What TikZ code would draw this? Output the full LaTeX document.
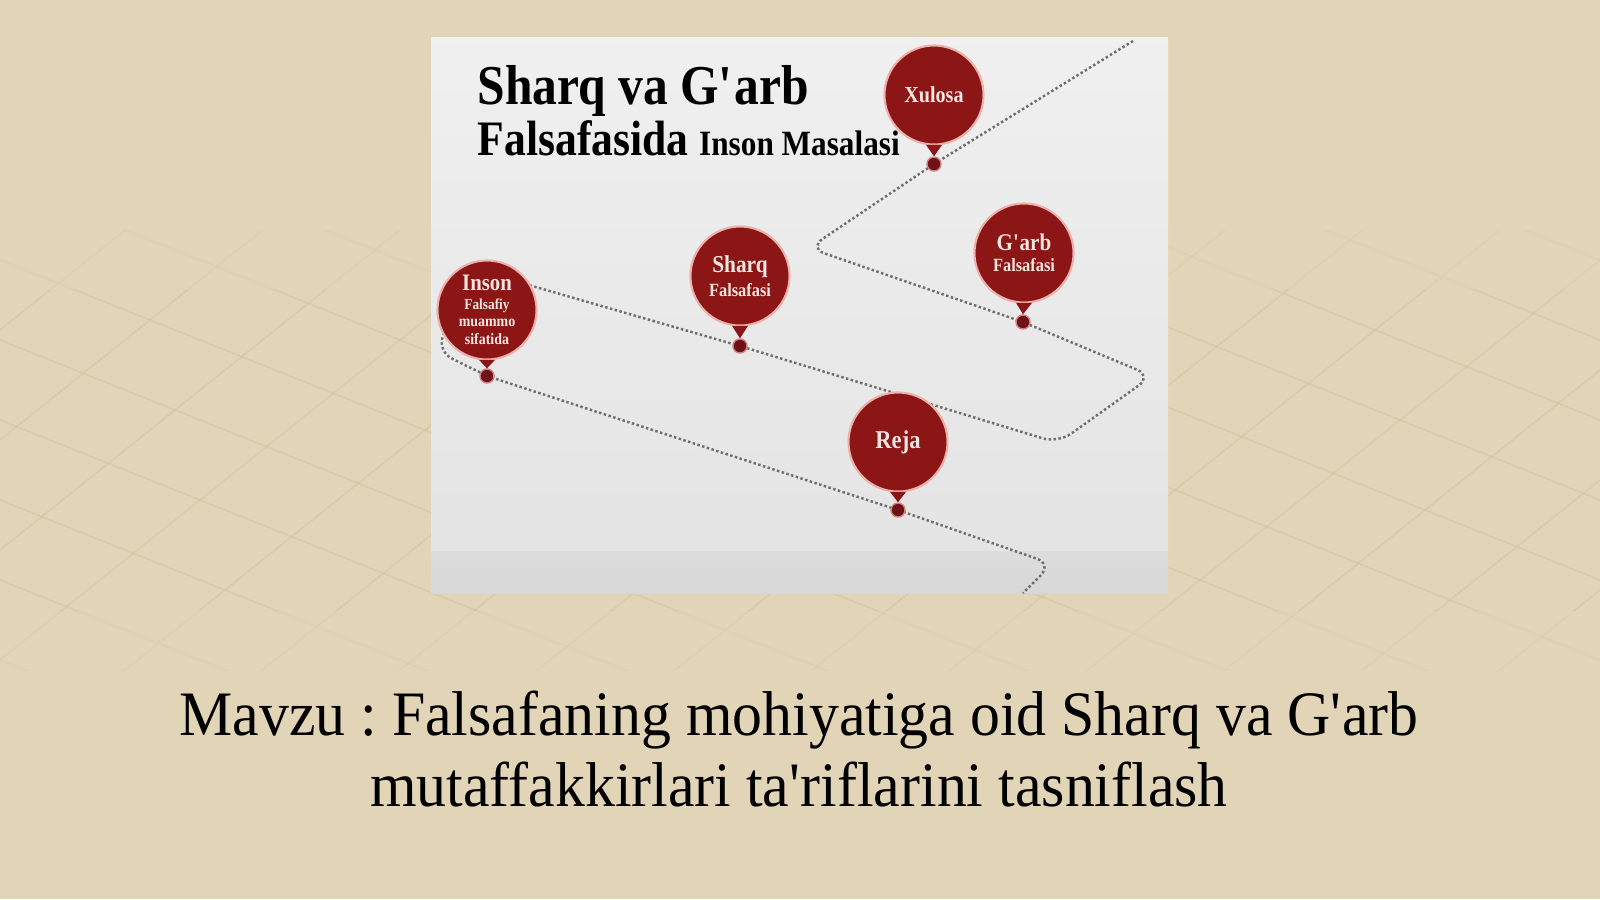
\documentclass[tikz,border=0pt]{standalone}
\usepackage{fontspec}
\setmainfont{Liberation Serif}
\newfontfamily\condfont[FakeStretch=0.88]{Liberation Serif}
\newfontfamily\capfont[FakeStretch=0.945]{Liberation Serif}
\frenchspacing
\definecolor{paper}{HTML}{E2D4B6}
\definecolor{gridline}{HTML}{CDBB97}
\definecolor{balloonred}{HTML}{8C1515}
\definecolor{pinred}{HTML}{6E1218}
\definecolor{glow}{HTML}{EEB0AA}
\definecolor{balloontext}{HTML}{F7E6E0}
\definecolor{trailgray}{HTML}{6E6E6E}
\begin{document}
\begin{tikzpicture}[x=0.01cm,y=-0.01cm]
  \tikzstyle{balloon}=[circle,fill=balloonred,draw=glow,line width=0.6pt,minimum size=0.99cm,inner sep=0pt,text=balloontext,align=center]
  \tikzstyle{pin}=[circle,fill=pinred,draw=glow!70!balloonred,line width=0.4pt,minimum size=0.14cm,inner sep=0pt]
  \tikzstyle{trail}=[draw=trailgray,line width=0.7pt,dash pattern=on 0.7pt off 0.7pt,rounded corners=0.16cm]
  \tikzstyle{heading}=[anchor=base west,inner sep=0pt,text=black]
  \tikzstyle{caption}=[anchor=base,inner sep=0pt,text=black,font=\capfont\fontsize{18}{20}\selectfont]
  \useasboundingbox (0,0) rectangle (1600,899);
  \fill[paper] (0,0) rectangle (1600,899);
  \foreach \top/\bot/\op in {230/290/0.15,290/610/0.35,610/670/0.15} {
    \begin{scope}
      \clip (0,\top) rectangle (1600,\bot);
      \foreach \c in {-700,-620,...,900}
        \draw[gridline,line width=0.5pt,opacity=\op] (0,\c) -- (1600,\c+640);
      \foreach \c in {0,110,...,2300}
        \draw[gridline,line width=0.5pt,opacity=\op] (0,\c) -- (1600,\c-1280);
    \end{scope}
  }
  \shade[top color=gray!12,bottom color=gray!21] (431,37) rectangle (1168,551);
  \shade[top color=gray!27,bottom color=gray!31] (431,551) rectangle (1168,593);
  \node[heading,font=\condfont\bfseries\fontsize{16}{16}\selectfont] (title) at (477,104) {Sharq va G\textquotesingle arb};
  \node[heading,font=\condfont\bfseries\fontsize{14.1}{14}\selectfont] (titleb) at (477,155) {Falsafasida};
  \node[heading,font=\condfont\bfseries\fontsize{10.1}{10}\selectfont] (titlec) at ([xshift=2.6pt]titleb.base east) {Inson Masalasi};
  \coordinate (start) at (1133,41);
  \coordinate (bendl) at (809,248);
  \coordinate (bendr) at (1152,376);
  \coordinate (bendb) at (1058,443);
  \coordinate (hida) at (470,268);
  \coordinate (hidb) at (437,351);
  \coordinate (bendz) at (1052,564);
  \coordinate (finish) at (1023,593);
  \coordinate (xulosa-at) at (934,164);
  \coordinate (garb-at) at (1023,322);
  \coordinate (sharq-at) at (740,346);
  \coordinate (inson-at) at (487,376);
  \coordinate (reja-at) at (898,510);
  \draw[trail] (start) -- (xulosa-at) -- (bendl) -- (garb-at) -- (bendr) -- (bendb) -- (sharq-at)
    -- (hida) -- (hidb) -- (inson-at) -- (reja-at) -- (bendz) -- (finish);
  \node[balloon,font=\condfont\bfseries\fontsize{6.5}{7}\selectfont] (xulosa) at (934,95) {Xulosa};
  \node[balloon,font=\condfont\bfseries\fontsize{5}{6}\selectfont] (garb) at (1024,253) {\fontsize{6.8}{6}\selectfont G\textquotesingle arb\\\fontsize{5.3}{6}\selectfont Falsafasi};
  \node[balloon,font=\condfont\bfseries\fontsize{5}{6.8}\selectfont] (sharq) at (740,276) {\fontsize{6.9}{6.8}\selectfont Sharq\\\fontsize{5.3}{6.8}\selectfont Falsafasi};
  \node[balloon,font=\condfont\bfseries\fontsize{4.5}{5}\selectfont] (inson) at (487,310) {\fontsize{6.7}{5}\selectfont Inson\\[0.4pt]\fontsize{4.3}{5}\selectfont Falsafiy\\[-0.2pt]\fontsize{4.5}{5}\selectfont muammo\\[0.3pt]\fontsize{4.5}{5}\selectfont sifatida};
  \node[balloon,font=\condfont\bfseries\fontsize{7.3}{8}\selectfont] (reja) at (898,442) {Reja};
  \foreach \b in {xulosa,garb,sharq,inson,reja} {
    \node[pin] (\b-pin) at (\b-at) {};
    \fill[balloonred] (\b.261) -- (\b-pin.north) -- (\b.279) -- cycle;
  }
  \node[caption] (mavzu) at (799,735) {Mavzu : Falsafaning mohiyatiga oid Sharq va G\textquotesingle arb};
  \node[caption] (mavzub) at (799,806) {mutaffakkirlari ta\textquotesingle riflarini tasniflash};
\end{tikzpicture}
\end{document}
